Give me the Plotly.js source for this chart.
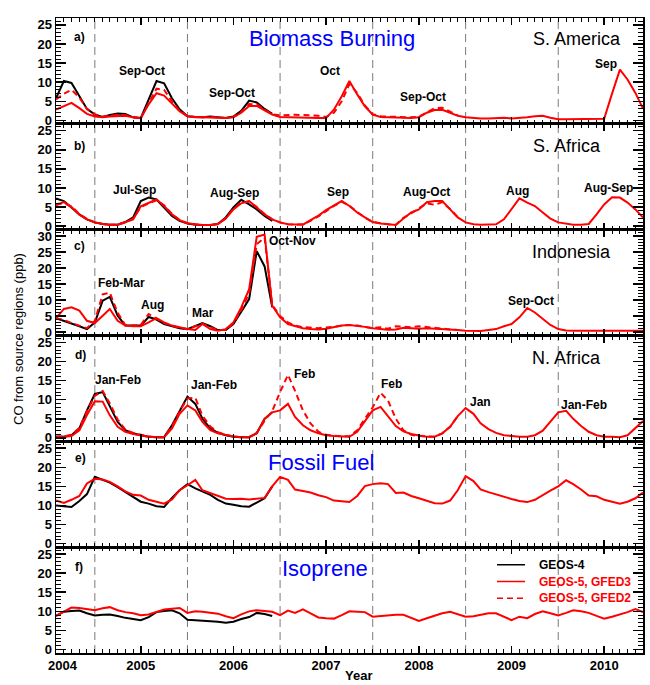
<!DOCTYPE html>
<html><head><meta charset="utf-8">
<script src="https://cdn.plot.ly/plotly-3.0.1.min.js"></script>
<style>html,body{margin:0;padding:0;background:#fff}#chart{width:650px;height:685px}</style>
</head><body><div id="chart"></div>
<script>
// monthly time axis: Aug 2004 .. Dec 2010
const startYear = 2004, startMonth = 8, nMonths = 77;
const months = [];
for (let i = 0; i < nMonths; i++) {
  const m = startMonth - 1 + i;
  const y = startYear + Math.floor(m / 12);
  const mm = (m % 12) + 1;
  months.push(y + '-' + String(mm).padStart(2, '0') + '-01');
}
const yearBoundaries = ['2005-01-01','2006-01-01','2007-01-01','2008-01-01','2009-01-01','2010-01-01'];

// a) S. America
const saG4 = [5.8,10.3,9.8,6.2,3.0,1.5,0.9,1.4,1.8,1.7,0.8,0.6,
  5.5,10.3,9.7,5.8,2.9,1.1,0.9,0.8,1.0,0.8,0.6,1.0,
  2.5,5.2,4.7,3.0,1.7];
const saG3 = [2.8,3.7,4.6,3.2,1.7,1.0,0.8,1.0,1.2,1.2,0.8,0.6,
  4.2,7.1,6.5,4.5,2.4,1.1,0.8,0.8,0.7,0.6,0.6,0.8,
  2.0,3.8,3.8,2.6,1.5,0.9,0.8,0.8,0.7,0.6,0.6,0.6,
  2.8,6.3,10.3,6.8,3.7,1.5,0.9,0.8,0.7,0.6,0.6,0.8,
  2.0,2.7,2.8,2.0,1.2,0.8,0.6,0.5,0.5,0.6,0.7,0.5,
  0.6,0.8,1.1,1.2,0.7,0.3,0.3,0.3,0.3,0.3,0.3,0.4,
  7.0,13.3,10.7,7.2,3.1];
const saG2 = [5.5,7.0,8.0,6.0,3.0,1.6,1.0,1.2,1.5,1.4,0.8,0.6,
  4.5,8.3,8.0,5.0,2.5,1.1,0.9,0.8,0.9,0.8,0.6,0.9,
  2.2,4.3,4.2,2.8,1.6,1.3,1.5,1.5,1.4,1.3,1.2,0.9,
  2.0,5.0,9.5,7.2,3.9,1.6,1.1,1.0,0.9,0.9,0.8,1.0,
  2.2,3.2,3.3,2.3,1.3];

// b) S. Africa
const safG4 = [7.3,6.6,4.9,3.1,1.8,1.0,0.6,0.4,0.4,1.1,2.3,6.6,
  7.5,7.0,4.9,2.7,1.4,0.7,0.4,0.3,0.3,0.6,2.3,4.9,
  6.9,5.7,4.4,2.7,1.4];
const safG3 = [5.5,6.3,5.0,3.0,1.8,1.0,0.6,0.4,0.4,1.0,1.8,5.2,
  6.2,7.0,5.3,3.1,1.6,0.8,0.5,0.3,0.3,0.6,2.0,4.4,
  6.0,6.6,4.9,3.1,1.8,1.0,0.5,0.4,0.4,1.6,2.8,4.2,
  5.5,6.6,5.3,3.6,2.3,1.1,0.7,0.5,0.3,2.0,3.6,4.4,
  6.3,6.6,6.6,4.4,2.3,1.0,0.5,0.4,0.4,0.5,1.8,4.4,
  7.3,6.2,5.3,3.6,2.0,1.0,0.6,0.4,0.4,0.6,3.1,5.7,
  7.6,7.5,6.2,4.4,2.3];
const safG2 = [5.8,6.0,5.2,3.2,1.9,1.0,0.6,0.4,0.4,1.0,2.0,5.0,
  6.0,6.8,5.5,3.2,1.6,0.8,0.5,0.3,0.3,0.6,2.1,4.6,
  6.2,6.5,5.0,3.2,1.8,1.0,0.5,0.4,0.5,1.4,2.6,4.0,
  5.3,6.4,5.4,3.7,2.3,1.1,0.7,0.5,0.4,2.2,3.4,4.6,
  6.0,5.6,6.3,4.5,2.4];

// c) Indonesia
const indG4 = [4.3,3.5,2.5,1.8,0.9,3.0,9.8,11.0,5.1,2.0,2.0,2.0,
  4.7,3.9,2.5,1.8,1.2,0.9,2.0,2.8,1.8,0.6,0.6,2.5,
  6.3,10.3,25.3,20.5,7.7];
const indG3 = [4.3,7.2,7.7,6.7,3.5,2.8,5.1,7.2,3.5,2.0,1.8,1.8,
  3.0,4.3,3.0,2.0,1.5,0.9,0.6,2.5,0.9,0.4,0.9,3.0,
  7.7,13.4,29.8,30.5,8.2,4.6,2.5,1.8,1.2,0.9,0.8,1.0,
  1.5,2.0,2.2,2.0,1.6,1.2,0.9,0.7,0.8,1.3,1.2,1.0,
  1.2,1.1,1.0,0.9,0.6,0.4,0.3,0.3,0.6,0.9,1.8,2.5,
  4.6,7.5,6.1,4.1,2.2,0.9,0.5,0.4,0.4,0.4,0.4,0.4,
  0.4,0.4,0.4,0.4,0.4];
const indG2 = [4.3,3.8,2.8,2.0,1.2,3.5,11.8,12.3,6.0,2.2,2.0,2.2,
  5.6,4.2,2.8,2.0,1.3,0.9,1.8,2.6,1.5,0.6,0.6,2.7,
  6.8,12.0,27.5,29.5,8.5,5.0,3.0,2.0,1.5,1.3,1.2,1.4,
  1.6,2.0,2.2,2.0,1.7,1.2,1.5,1.0,1.8,1.6,1.5,1.8,
  1.5,1.4,1.0,0.8,0.6];

// d) N. Africa
const nafG4 = [0.3,0.3,0.7,2.5,7.2,11.5,12.0,8.1,4.2,2.0,1.2,0.7,
  0.3,0.2,0.2,3.3,6.8,10.8,8.9,5.0,2.5,1.3,0.7,0.3,
  0.2,0.2,1.2,5.0,6.7];
const nafG3 = [0.3,0.3,0.5,2.0,6.0,9.6,9.5,5.9,2.9,1.6,1.0,0.6,
  0.3,0.2,0.2,2.5,6.3,8.5,7.2,4.2,2.0,1.2,0.8,0.4,
  0.2,0.2,1.2,5.0,6.7,7.2,8.9,5.5,3.3,2.0,1.2,0.7,
  0.5,0.3,0.3,1.6,4.2,7.2,8.1,5.7,3.1,1.7,1.0,0.6,
  0.3,0.3,1.2,2.9,5.7,7.8,6.3,3.8,2.3,1.3,0.7,0.5,
  0.3,0.3,0.7,1.9,4.2,6.7,7.1,5.0,3.1,1.6,0.7,0.3,
  0.3,0.2,0.7,2.5,4.4];
const nafG2 = [0.3,0.4,0.8,2.6,7.0,11.0,12.3,9.0,4.8,2.2,1.3,0.8,
  0.4,0.2,0.2,3.0,7.0,10.3,10.5,5.8,3.0,1.5,0.8,0.4,
  0.2,0.2,1.3,4.5,7.0,12.0,16.5,12.3,7.2,3.8,1.6,0.8,
  0.5,0.4,0.4,2.0,5.0,8.0,11.8,9.8,5.0,2.0,0.8,0.5,
  0.4,0.3,1.2,2.9,5.7];

// e) Fossil fuel
const ffG4 = [10.0,9.8,9.6,11.2,13.0,17.5,16.8,16.0,14.8,13.6,12.3,11.0,
  10.5,9.8,9.6,12.0,14.0,15.6,14.5,13.6,12.8,11.5,10.5,10.2,
  9.8,9.7,10.7,11.9,15.0];
const ffG3 = [11.3,10.7,11.5,12.5,15.8,17.0,16.8,16.2,15.0,13.7,12.8,12.6,
  11.5,11.0,10.5,11.6,14.0,15.3,16.7,14.0,13.2,12.5,11.8,11.7,
  11.8,11.6,11.7,12.0,15.0,17.5,16.7,14.2,13.8,13.4,12.7,12.2,
  11.3,11.0,10.9,12.5,15.1,15.6,15.8,15.6,13.3,13.4,12.5,11.9,
  11.3,10.6,10.5,11.3,14.0,17.7,16.4,14.2,13.5,12.9,12.2,11.7,
  11.2,10.9,11.5,12.8,13.9,15.0,16.6,15.6,14.2,12.6,12.4,11.5,
  11.0,10.5,11.0,11.9,13.4];

// f) Isoprene
const isoG4 = [8.8,9.9,10.1,10.2,9.5,8.9,9.1,9.2,8.8,8.3,8.0,7.7,
  8.5,9.8,10.1,10.3,9.5,7.8,7.7,7.6,7.5,7.3,7.0,7.3,
  8.0,8.5,9.6,9.3,8.8];
const isoG3 = [8.8,10.0,11.0,10.9,10.6,10.3,10.8,11.1,10.3,9.8,9.5,9.0,
  9.2,9.8,10.5,10.7,10.9,9.6,10.0,9.9,9.6,9.4,8.7,8.2,
  9.2,10.0,10.3,10.1,9.9,9.0,10.2,9.6,10.5,9.5,8.4,8.2,
  8.1,9.0,10.0,9.9,9.8,8.6,8.8,9.0,9.1,9.1,8.2,7.5,
  8.2,8.9,9.5,9.9,9.3,8.6,8.7,9.1,9.5,9.5,8.6,7.7,
  8.6,8.2,9.3,10.0,9.5,8.9,9.6,10.3,10.0,9.6,8.8,8.1,
  8.6,9.2,9.8,10.6,9.8];

const seriesNames = ['GEOS-4', 'GEOS-5, GFED3', 'GEOS-5, GFED2'];
const R25 = [-0.9, 26.8], R30 = [-1.1, 32];
const panels = [
  {g4: saG4, g3: saG3, g2: saG2, range: R25},
  {g4: safG4, g3: safG3, g2: safG2, range: R25},
  {g4: indG4, g3: indG3, g2: indG2, range: R30},
  {g4: nafG4, g3: nafG3, g2: nafG2, range: R25},
  {g4: ffG4, g3: ffG3, g2: null, range: R25},
  {g4: isoG4, g3: isoG3, g2: null, range: R25}
];

const FONT = 'Liberation Sans, Arial, Helvetica, sans-serif';
const RED = '#ff0000';
const traces = [];
const layout = {
  width: 650, height: 685,
  margin: {l: 56, r: 7, t: 18, b: 32},
  paper_bgcolor: '#fff', plot_bgcolor: '#fff',
  showlegend: false,
  font: {family: FONT, color: '#000'},
  shapes: [], annotations: []
};

panels.forEach((p, k) => {
  const s = k === 0 ? '' : String(k + 1);
  const xa = 'x' + s, ya = 'y' + s;
  traces.push({x: months.slice(0, p.g4.length), y: p.g4, xaxis: xa, yaxis: ya, type: 'scatter', mode: 'lines',
    name: seriesNames[0], line: {color: '#000', width: 2}});
  traces.push({x: months.slice(0, p.g3.length), y: p.g3, xaxis: xa, yaxis: ya, type: 'scatter', mode: 'lines',
    name: seriesNames[1], line: {color: RED, width: 2}});
  if (p.g2) traces.push({x: months.slice(0, p.g2.length), y: p.g2, xaxis: xa, yaxis: ya, type: 'scatter', mode: 'lines',
    name: seriesNames[2], line: {color: RED, width: 2, dash: '6px,4px'}});

  layout['xaxis' + s] = {
    domain: [0, 1], anchor: ya, type: 'date',
    range: [months[0], months[months.length - 1]],
    showticklabels: k === 5,
    tickmode: 'linear', tick0: '2004-07-01', dtick: 'M12', tickformat: '%Y',
    ticks: 'inside', ticklen: 7, tickwidth: 1.5, tickcolor: '#000',
    minor: {ticks: 'inside', tickmode: 'linear', tick0: '2004-01-01', dtick: 'M1', ticklen: 4, tickwidth: 1, tickcolor: '#000'},
    showline: true, linewidth: 1.5, linecolor: '#000', mirror: 'ticks',
    showgrid: false, zeroline: false,
    tickfont: {family: FONT, size: 13, weight: 'bold', color: '#000'}
  };
  if (k > 0) layout['xaxis' + s].matches = 'x';
  layout['yaxis' + s] = {
    domain: [1 - (k + 1) / 6, 1 - k / 6], anchor: xa,
    range: p.range, tick0: 0, dtick: 5,
    ticks: 'inside', ticklen: 10, tickwidth: 1.5, tickcolor: '#000',
    minor: {ticks: 'inside', dtick: 1, ticklen: 5, tickwidth: 1, tickcolor: '#000'},
    showline: true, linewidth: 1.5, linecolor: '#000', mirror: 'ticks',
    showgrid: false, zeroline: false,
    tickfont: {family: FONT, size: 13, weight: 'bold', color: '#000'}
  };
});

yearBoundaries.forEach(d => layout.shapes.push({
  type: 'line', xref: 'x', yref: 'paper', x0: d, x1: d, y0: 0, y1: 1,
  line: {color: '#7a7a7a', width: 1, dash: '8px,5px'}, layer: 'below'
}));

function ann(text, x, y, k, size, opts) {
  const s = k === 0 ? '' : String(k + 1);
  layout.annotations.push(Object.assign({
    text: text, x: x, y: y, xref: 'paper', yref: 'y' + s,
    showarrow: false, xanchor: 'center', yanchor: 'middle',
    font: {family: FONT, size: size, color: '#000', weight: 'bold'}
  }, opts || {}));
}
const LEFT = {xanchor: 'left'};
const blueTitle = (t, x, y, k) => ann(t, x, y, k, 22, {font: {family: FONT, size: 22, color: '#0000ff'}});
const region = (t, x, y, k) => ann(t, x, y, k, 18, {font: {family: FONT, size: 18, color: '#000'}});

// panel a
ann('a)', 0.0273, 21.7, 0, 12, LEFT);
blueTitle('Biomass Burning', 0.470, 21.4, 0);
region('S. America', 0.8876, 21.3, 0);
ann('Sep-Oct', 0.146, 12.9, 0, 12);
ann('Sep-Oct', 0.2998, 7.3, 0, 12);
ann('Oct', 0.4668, 12.9, 0, 12);
ann('Sep-Oct', 0.625, 6.15, 0, 12);
ann('Sep', 0.937, 14.7, 0, 12);
// panel b
ann('b)', 0.0273, 21.1, 1, 12, LEFT);
region('S. Africa', 0.8705, 20.9, 1);
ann('Jul-Sep', 0.1329, 9.5, 1, 12);
ann('Aug-Sep', 0.3049, 8.7, 1, 12);
ann('Sep', 0.4804, 8.95, 1, 12);
ann('Aug-Oct', 0.632, 8.95, 1, 12);
ann('Aug', 0.787, 9.1, 1, 12);
ann('Aug-Sep', 0.9404, 10.0, 1, 12);
// panel c
ann('c)', 0.0273, 26.9, 2, 12, LEFT);
region('Indonesia', 0.879, 25.0, 2);
ann('Feb-Mar', 0.1124, 15.3, 2, 12);
ann('Aug', 0.1652, 8.4, 2, 12);
ann('Mar', 0.2504, 5.9, 2, 12);
ann('Oct-Nov', 0.4037, 28.5, 2, 12);
ann('Sep-Oct', 0.8092, 9.7, 2, 12);
// panel d
ann('d)', 0.0290, 21.8, 3, 12, LEFT);
region('N. Africa', 0.8705, 21.0, 3);
ann('Jan-Feb', 0.1056, 15.1, 3, 12);
ann('Jan-Feb', 0.2692, 13.8, 3, 12);
ann('Feb', 0.4225, 16.6, 3, 12);
ann('Feb', 0.5707, 14.2, 3, 12);
ann('Jan', 0.724, 9.4, 3, 12);
ann('Jan-Feb', 0.8995, 8.6, 3, 12);
// panel e
ann('e)', 0.0290, 22.5, 4, 12, LEFT);
blueTitle('Fossil Fuel', 0.4514, 21.2, 4);
// panel f
ann('f)', 0.0290, 21.7, 5, 12, LEFT);
blueTitle('Isoprene', 0.458, 21.2, 5);

// legend (panel f)
const legendRows = [
  {name: seriesNames[0], y: 22.2, color: '#000', dash: 'solid'},
  {name: seriesNames[1], y: 17.8, color: RED, dash: 'solid'},
  {name: seriesNames[2], y: 13.4, color: RED, dash: '6px,4px'}
];
legendRows.forEach(r => {
  layout.shapes.push({type: 'line', xref: 'paper', yref: 'y6', x0: 0.7513, x1: 0.799, y0: r.y, y1: r.y,
    line: {color: r.color, width: 1.5, dash: r.dash}});
  ann(r.name, 0.8194, r.y, 5, 12, {xanchor: 'left', font: {family: FONT, size: 12, color: r.color, weight: 'bold'}});
});

// axis titles and first year label
layout.annotations.push({text: 'CO from source regions (ppb)', xref: 'paper', yref: 'paper', x: -0.063, y: 0.4945,
  textangle: -90, showarrow: false, xanchor: 'center', yanchor: 'middle',
  font: {family: FONT, size: 13, color: '#000'}});
layout.annotations.push({text: 'Year', xref: 'paper', yref: 'paper', x: 0.5145, y: -0.036,
  showarrow: false, xanchor: 'center', yanchor: 'middle',
  font: {family: FONT, size: 13, color: '#000', weight: 'bold'}});
layout.annotations.push({text: '2004', xref: 'paper', yref: 'paper', x: 0.0119, y: -0.019,
  showarrow: false, xanchor: 'center', yanchor: 'middle',
  font: {family: FONT, size: 13, color: '#000', weight: 'bold'}});

Plotly.newPlot('chart', traces, layout, {staticPlot: true, displayModeBar: false});
</script>
</body></html>
